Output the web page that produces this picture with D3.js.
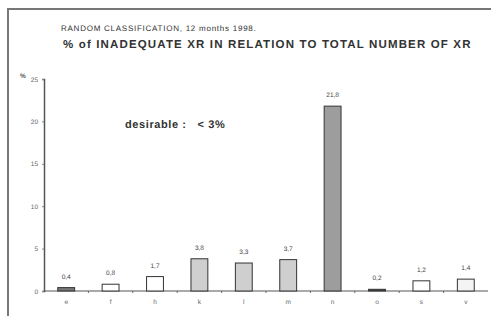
<!DOCTYPE html>
<html>
<head>
<meta charset="utf-8">
<script src="https://cdn.jsdelivr.net/npm/d3@7"></script>
<style>
  body { margin: 0; background: #fff; }
  svg { display: block; font-family: "Liberation Sans", Arial, sans-serif; }
  text { text-rendering: geometricPrecision; }
</style>
</head>
<body>
<script>
const categories = ['e', 'f', 'h', 'k', 'l', 'm', 'n', 'o', 's', 'v']
const values = [0.4, 0.8, 1.7, 3.8, 3.3, 3.7, 21.8, 0.2, 1.2, 1.4]
const valueLabels = ['0,4', '0,8', '1,7', '3,8', '3,3', '3,7', '21,8', '0,2', '1,2', '1,4']
const barFills = ['#777', '#fff', '#fff', '#cfcfcf', '#cfcfcf', '#cfcfcf', '#9d9d9d', '#444', '#fff', '#f4f4f4']
const yTicks = [0, 5, 10, 15, 20, 25]

const width = 491
const height = 316

const svg = d3.select('body').append('svg').attr('width', width).attr('height', height)

// frame, cut off at the right and bottom like the scan
svg.append('rect').attr('x', 8).attr('y', 9).attr('width', 500).attr('height', 320)
  .attr('fill', 'none').attr('stroke', '#777').attr('stroke-width', 2)

svg.append('text').attr('x', 61).attr('y', 31)
  .attr('font-size', 8).attr('letter-spacing', 0.75).attr('fill', '#333')
  .text('RANDOM CLASSIFICATION, 12 months 1998.')

svg.append('text').attr('x', 63).attr('y', 48)
  .attr('font-size', 11.5).attr('letter-spacing', 1.15).attr('font-weight', 'bold').attr('fill', '#333')
  .text('% of INADEQUATE XR IN RELATION TO TOTAL NUMBER OF XR')

svg.append('text').attr('x', 125).attr('y', 128)
  .attr('font-size', 11).attr('font-weight', 'bold').attr('letter-spacing', 0.6).attr('fill', '#333')
  .style('white-space', 'pre')
  .text('desirable :   < 3%')

const x = d3.scaleBand().domain(categories).range([44, 488]).paddingInner(0.62).paddingOuter(0.31)
const y = d3.scaleLinear().domain([0, 25]).range([291, 79])

// y axis
const yAxis = svg.append('g').attr('transform', 'translate(44,0)')
  .call(d3.axisLeft(y).tickValues(yTicks).tickSize(2).tickPadding(4))
yAxis.select('.domain').attr('stroke', '#555').attr('stroke-width', 1.5)
yAxis.selectAll('.tick line').attr('stroke', '#888')
yAxis.selectAll('.tick text').attr('fill', '#666').attr('font-size', 6.5)
  .attr('font-family', '"Liberation Sans", Arial, sans-serif')

svg.append('text').attr('x', 20).attr('y', 78).attr('font-size', 6.5).attr('font-weight', 'bold').attr('fill', '#555').text('%')

// x axis: baseline with ticks between categories
const xAxis = svg.append('g').attr('transform', 'translate(0,291)')
xAxis.append('line').attr('x1', 44).attr('x2', 488).attr('stroke', '#555').attr('stroke-width', 1.2)
xAxis.selectAll('.sep').data(categories.slice(1)).enter().append('line')
  .attr('x1', d => x(d) - x.step() * x.paddingInner() / 2)
  .attr('x2', d => x(d) - x.step() * x.paddingInner() / 2)
  .attr('y1', 0).attr('y2', 2).attr('stroke', '#666')
xAxis.selectAll('.cat').data(categories).enter().append('text')
  .attr('x', d => x(d) + x.bandwidth() / 2).attr('y', 13)
  .attr('text-anchor', 'middle').attr('font-size', 6.5).attr('fill', '#666')
  .text(d => d)

svg.selectAll('.bar').data(values).enter().append('rect')
  .attr('x', (d, i) => x(categories[i]))
  .attr('y', d => y(d))
  .attr('width', x.bandwidth())
  .attr('height', d => y(0) - y(d))
  .attr('fill', (d, i) => barFills[i])
  .attr('stroke', '#333').attr('stroke-width', 1)

svg.selectAll('.val').data(values).enter().append('text')
  .attr('x', (d, i) => x(categories[i]) + x.bandwidth() / 2)
  .attr('y', d => y(d) - 9)
  .attr('text-anchor', 'middle').attr('font-size', 6.5).attr('fill', '#444')
  .text((d, i) => valueLabels[i])
</script>
</body>
</html>
